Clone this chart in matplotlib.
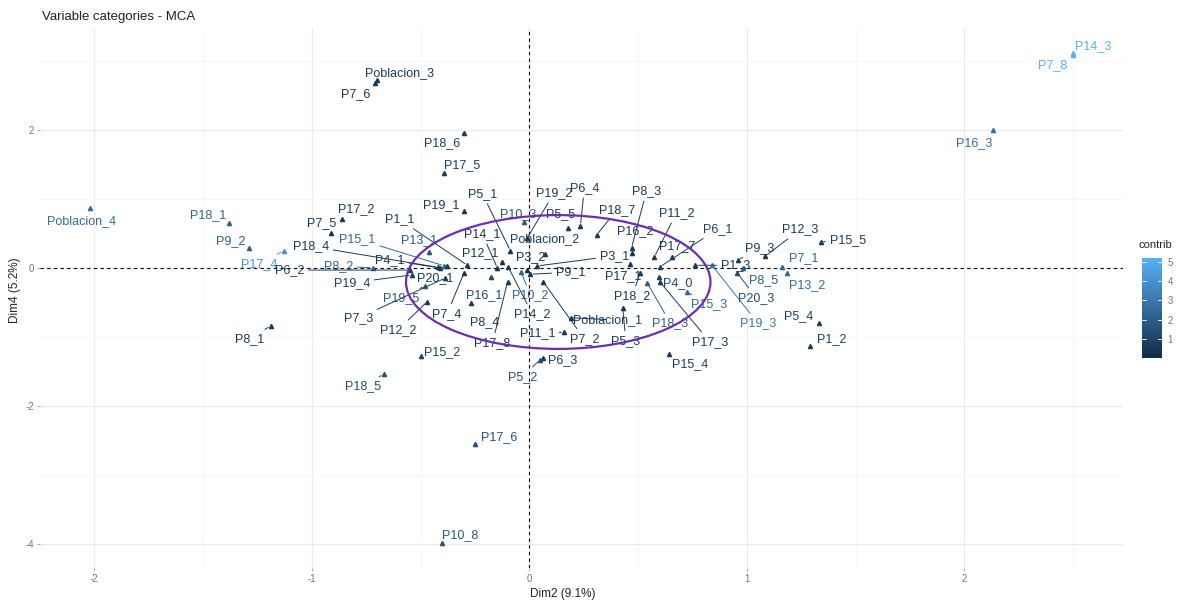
import numpy as np
import matplotlib
matplotlib.use("Agg")
import matplotlib.pyplot as plt
from matplotlib.colors import LinearSegmentedColormap, Normalize
from matplotlib.patches import Ellipse

plt.rcParams['font.family'] = ['Liberation Sans', 'DejaVu Sans']
plt.rcParams['axes.unicode_minus'] = False

# MCA variable categories: coordinates on Dim2 / Dim4 and contribution
names = ['Poblacion_4', 'P18_1', 'P9_2', 'P17_4', 'P8_1', 'P7_5', 'P17_2', 'P18_4',
         'P6_2', 'P8_2', 'P4_1', 'P15_1', 'P1_1', 'P13_1', 'P14_1', 'P12_1',
         'P3_2', 'P5_1', 'P19_1', 'P17_5', 'P18_6', 'Poblacion_3', 'P7_6', 'P20_1',
         'P19_4', 'P19_5', 'P7_3', 'P12_2', 'P7_4', 'P16_1', 'P8_4', 'P17_8',
         'P10_2', 'P14_2', 'P11_1', 'P15_2', 'P18_5', 'P5_2', 'P6_3', 'P17_6',
         'P10_8', 'P19_2', 'P10_3', 'P5_5', 'P6_4', 'P18_7', 'Poblacion_2', 'P8_3',
         'P16_2', 'P11_2', 'P3_1', 'P9_1', 'P17_1', 'P17_7', 'P6_1', 'P1_3',
         'P18_2', 'P4_0', 'P15_3', 'P18_3', 'P17_3', 'P15_4', 'Poblacion_1', 'P7_2',
         'P5_3', 'P9_3', 'P12_3', 'P15_5', 'P7_1', 'P13_2', 'P8_5', 'P20_3',
         'P19_3', 'P5_4', 'P1_2', 'P14_3', 'P7_8', 'P16_3']
dim2 = [-2.02, -1.38, -1.29, -1.13, -1.19, -0.91, -0.86, -0.42,
        -0.55, -0.72, -0.41, -0.39, -0.285, -0.46, -0.147, -0.124,
        -0.01, -0.087, -0.30, -0.39, -0.30, -0.70, -0.71, -0.377,
        -0.54, -0.48, -0.386, -0.47, -0.30, -0.175, -0.267, -0.10,
        -0.037, -0.097, 0.161, -0.50, -0.67, 0.05, 0.064, -0.25,
        -0.40, -0.01, -0.023, 0.18, 0.235, 0.31, 0.074, 0.47,
        0.47, 0.575, 0.037, 0.005, 0.464, 0.657, 0.60, 0.763,
        0.51, 0.598, 0.726, 0.543, 0.60, 0.644, 0.19, 0.064,
        0.43, 0.96, 1.085, 1.34, 1.163, 1.186, 0.984, 0.956,
        0.84, 1.33, 1.29, 2.50, 2.50, 2.13]
dim4 = [0.87, 0.65, 0.29, 0.25, -0.84, 0.51, 0.71, 0.01,
        -0.03, 0.0, 0.0, 0.03, 0.04, 0.23, 0.0, 0.087,
        -0.03, 0.25, 0.83, 1.38, 1.96, 2.72, 2.68, 0.03,
        -0.10, -0.26, -0.145, -0.49, -0.07, -0.13, -0.51, -0.20,
        -0.06, 0.015, -0.93, -1.28, -1.54, -1.33, -1.30, -2.55,
        -3.99, 0.435, 0.67, 0.58, 0.61, 0.48, 0.20, 0.29,
        0.22, 0.16, 0.03, -0.09, 0.06, 0.16, 0.015, 0.04,
        -0.07, -0.13, -0.35, -0.22, -0.20, -1.25, -0.72, -0.20,
        -0.58, 0.116, 0.17, 0.377, 0.015, -0.07, 0.0, -0.07,
        0.04, -0.80, -1.13, 3.12, 3.09, 2.0]
contrib = [2.6, 2.2, 2.0, 4.0, 0.6, 0.5, 0.6, 0.5,
           0.8, 2.3, 0.6, 2.4, 0.6, 1.8, 0.4, 0.4,
           0.3, 0.5, 0.5, 0.8, 0.8, 0.6, 0.5, 0.6,
           0.7, 1.8, 0.7, 0.6, 0.5, 1.2, 0.6, 0.5,
           2.2, 0.7, 0.5, 0.9, 1.4, 1.4, 0.7, 1.5,
           1.6, 0.5, 1.7, 0.6, 0.6, 0.5, 0.7, 0.6,
           0.6, 0.6, 0.5, 0.5, 0.5, 0.5, 0.9, 0.7,
           0.6, 0.9, 2.4, 2.0, 0.6, 0.7, 0.7, 0.6,
           0.6, 0.8, 0.6, 0.7, 2.3, 2.4, 2.0, 1.2,
           3.0, 0.8, 0.8, 5.2, 5.2, 2.7]

# repelled label offsets (pixels, relative to the point)
label_off = [(-8, -13), (-21, 8), (-18, 7), (-24, -13), (-21, -13), (-10, 10), (14, 10), (-127, 21),
             (-120, 0), (-34, 2), (-50, 8), (-87, 27), (-68, 46), (-10, 12), (-15, 34), (-22, 9),
             (3, 13), (-28, 57), (-23, 6), (18, 8), (-22, -10), (22, 7), (-19, -11), (-12, -12),
             (-60, -8), (-24, -12), (-87, -40), (-29, -28), (-17, -41), (-7, -18), (13, -19), (-15, -61),
             (9, -23), (24, -47), (-27, -1), (22, 4), (-21, -12), (-18, -17), (19, -2), (24, 7),
             (18, 8), (27, 45), (-6, 8), (-8, 14), (4, 38), (20, 25), (-1, 15), (15, 57),
             (4, 22), (22, 44), (77, 10), (40, 2), (-7, -12), (5, 11), (58, 38), (40, 0),
             (-8, -23), (18, -6), (22, -12), (23, -40), (50, -60), (21, -10), (37, -2), (41, -57),
             (3, -33), (22, 12), (35, 27), (27, 2), (21, 9), (20, -12), (20, -12), (19, -25),
             (46, -58), (-20, 7), (22, 7), (20, 7), (-20, -10), (-18, -13)]

cmap = LinearSegmentedColormap.from_list('gg', ['#132B43', '#56B1F7'])
norm = Normalize(vmin=0.0, vmax=5.2)

fig = plt.figure(figsize=(11.93, 6.05), dpi=100)
ax = fig.add_axes([40 / 1193, 1 - 568 / 605, 1083 / 1193, 540 / 605])

# minimal theme grid
ax.set_xticks([-2, -1, 0, 1, 2])
ax.set_yticks([-4, -2, 0, 2])
ax.set_xticks(np.arange(-2.5, 3.0, 0.5), minor=True)
ax.set_yticks(np.arange(-5, 4, 1), minor=True)
ax.grid(True, which='major', color='#ebebeb', lw=0.9)
ax.grid(True, which='minor', color='#f4f4f4', lw=0.5)
ax.set_axisbelow(True)
for s in ax.spines.values():
    s.set_visible(False)
ax.tick_params(which='major', length=2.5, width=0.6, color='#999999',
               labelsize=7, labelcolor='#777777', pad=2)
ax.tick_params(which='minor', length=0)

ax.axhline(0, color='black', ls=(0, (3, 3)), lw=0.8, zorder=1)
ax.axvline(0, color='black', ls=(0, (3, 3)), lw=0.8, zorder=1)

for n, x, y, c, off in zip(names, dim2, dim4, contrib, label_off):
    col = cmap(norm(c))
    ax.plot(x, y, marker='^', ms=3, color=col, ls='none', zorder=3)
    far = np.hypot(*off) > 24
    ax.annotate(n, xy=(x, y), xytext=off, textcoords='offset pixels',
                ha='center', va='center', fontsize=9, color=col, zorder=4,
                arrowprops=dict(arrowstyle='-', color=col, lw=0.7,
                                shrinkA=1, shrinkB=2) if far else None)

ax.add_patch(Ellipse((0.133, -0.203), 1.40, 1.94, fill=False,
                     edgecolor='#6a2fb0', lw=1.6, zorder=5))

ax.set_xlim(-2.25, 2.73)
ax.set_ylim(-4.35, 3.48)

fig.text(42 / 1193, 1 - 17 / 605, 'Variable categories - MCA', fontsize=9.5,
         color='#222222', va='center', ha='left')
fig.text(563 / 1193, 1 - 594 / 605, 'Dim2 (9.1%)', fontsize=8.5,
         color='#222222', va='center', ha='center')
fig.text(15 / 1193, 1 - 290 / 605, 'Dim4 (5.2%)', fontsize=8.5, rotation=90,
         color='#222222', va='center', ha='center')

# colour bar
cax = fig.add_axes([1142 / 1193, 1 - 358 / 605, 20 / 1193, 100 / 605])
grad = np.linspace(0, 5.2, 256).reshape(-1, 1)
cax.imshow(grad, aspect='auto', origin='lower', cmap=cmap, norm=norm,
           extent=[0, 1, 0, 5.2])
cax.set_xticks([])
cax.yaxis.tick_right()
cax.set_yticks([1, 2, 3, 4, 5])
cax.tick_params(axis='y', length=0, labelsize=7, labelcolor='#777777', pad=4)
for v in [1, 2, 3, 4, 5]:
    cax.plot([0, 0.2], [v, v], color='white', lw=0.6)
    cax.plot([0.8, 1], [v, v], color='white', lw=0.6)
cax.set_xlim(0, 1)
cax.set_ylim(0, 5.2)
for s in cax.spines.values():
    s.set_visible(False)
fig.text(1155 / 1193, 1 - 245 / 605, 'contrib', fontsize=8, color='#222222',
         ha='center', va='center')

fig.savefig('out.png', dpi=100)
